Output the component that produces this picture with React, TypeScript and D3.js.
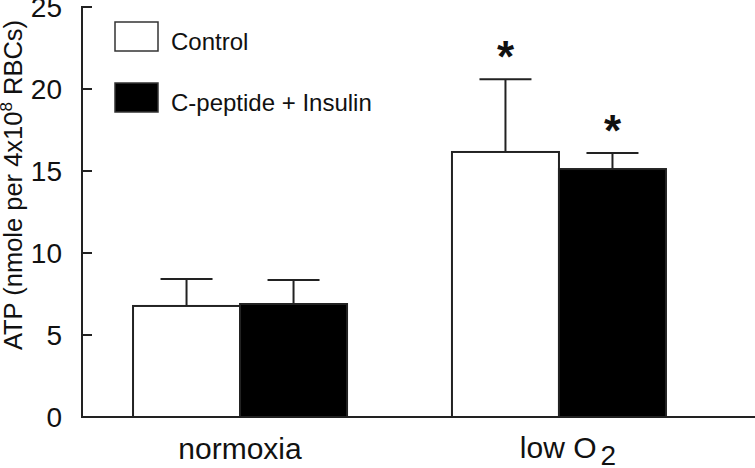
import { useEffect, useRef } from 'react';
import * as d3 from 'd3';

// data
const groups = ['normoxia', 'low O2'];
const series = ['Control', 'C-peptide + Insulin'];
const seriesFill = ['#ffffff', '#000000'];
const controlMean = [6.77, 16.16];
const controlErr = [1.64, 4.44];
const peptideMean = [6.89, 15.12];
const peptideErr = [1.46, 0.98];
const significant = [[false, false], [true, true]];
const yTicks = [0, 5, 10, 15, 20, 25];

export default function App() {
	const svgRef = useRef<SVGSVGElement | null>(null);

	useEffect(() => {
		const svg = d3.select(svgRef.current);
		svg.selectAll('*').remove();

		const width = 755;
		const height = 468;
		const margin = { top: 7, right: 0, bottom: 51, left: 82 };
		const h = height - margin.top - margin.bottom;
		const font = 'Liberation Sans, Arial, sans-serif';

		const g = svg.append('g').attr('transform', `translate(${margin.left},${margin.top})`);

		const x0 = d3.scaleBand().domain(groups).range([0, 635]).paddingInner(0.329).paddingOuter(0.16);
		const x1 = d3.scaleBand().domain(series).range([0, x0.bandwidth()]);
		const y = d3.scaleLinear().domain([0, 25]).range([h, 0]);

		const rows = groups.map((grp, i) => ({
			grp,
			bars: [
				{ s: series[0], mean: controlMean[i], err: controlErr[i], star: significant[i][0], fill: seriesFill[0] },
				{ s: series[1], mean: peptideMean[i], err: peptideErr[i], star: significant[i][1], fill: seriesFill[1] }
			]
		}));

		// bars
		rows.forEach((row) => {
			const gg = g.append('g').attr('transform', `translate(${x0(row.grp)},0)`);
			row.bars.forEach((b) => {
				const bx = x1(b.s) ?? 0;
				const cx = bx + x1.bandwidth() / 2;
				// error bar (upper only)
				gg.append('line')
					.attr('x1', cx).attr('x2', cx)
					.attr('y1', y(b.mean)).attr('y2', y(b.mean + b.err))
					.attr('stroke', '#222').attr('stroke-width', 2);
				gg.append('line')
					.attr('x1', cx - 26).attr('x2', cx + 26)
					.attr('y1', y(b.mean + b.err)).attr('y2', y(b.mean + b.err))
					.attr('stroke', '#222').attr('stroke-width', 2);
				gg.append('rect')
					.attr('x', bx)
					.attr('y', y(b.mean))
					.attr('width', x1.bandwidth())
					.attr('height', h - y(b.mean))
					.attr('fill', b.fill)
					.attr('stroke', '#222')
					.attr('stroke-width', 2);
				if (b.star) {
					gg.append('text')
						.attr('x', cx)
						.attr('y', y(b.mean + b.err) - 32 + 0.57 * 44)
						.attr('text-anchor', 'middle')
						.attr('font-family', font)
						.attr('font-weight', 'bold')
						.attr('font-size', 44)
						.attr('fill', '#111')
						.text('*');
				}
			});
		});

		// y axis
		g.append('line').attr('x1', 0).attr('x2', 0).attr('y1', y(25) - 1).attr('y2', h + 1)
			.attr('stroke', '#222').attr('stroke-width', 2);
		const ticks = g.append('g');
		yTicks.forEach((t) => {
			ticks.append('line').attr('x1', 0).attr('x2', 10).attr('y1', y(t)).attr('y2', y(t))
				.attr('stroke', '#222').attr('stroke-width', 2);
			ticks.append('text')
				.attr('x', -20)
				.attr('y', y(t))
				.attr('dy', '0.36em')
				.attr('text-anchor', 'end')
				.attr('font-family', font)
				.attr('font-size', 28)
				.attr('fill', '#111')
				.text(t);
		});

		// x axis
		g.append('line').attr('x1', 0).attr('x2', width - margin.left).attr('y1', h).attr('y2', h)
			.attr('stroke', '#222').attr('stroke-width', 2);

		// category labels
		const cat = g.append('g').attr('font-family', font).attr('font-size', 30).attr('fill', '#111');
		cat.append('text')
			.attr('x', (x0(groups[0]) ?? 0) + x0.bandwidth() / 2)
			.attr('y', h + 42)
			.attr('text-anchor', 'middle')
			.text('normoxia');
		const lo = cat.append('text')
			.attr('x', (x0(groups[1]) ?? 0) + x0.bandwidth() / 2 + 9)
			.attr('y', h + 41)
			.attr('text-anchor', 'middle');
		lo.append('tspan').text('low O');
		lo.append('tspan').attr('dx', 4).attr('dy', 7).attr('font-size', 28).text('2');

		// y label
		const yl = svg.append('text')
			.attr('transform', `translate(22,185) rotate(-90)`)
			.attr('text-anchor', 'middle')
			.attr('font-family', font)
			.attr('font-size', 25.5)
			.attr('fill', '#111');
		yl.append('tspan').text('ATP (nmole per 4x10');
		yl.append('tspan').attr('font-size', 17).attr('dy', -10).text('8');
		yl.append('tspan').attr('dy', 10).text(' RBCs)');

		// legend
		const legend = svg.append('g').attr('transform', 'translate(115,22)');
		series.forEach((s, i) => {
			const row = legend.append('g').attr('transform', `translate(0,${i * 61})`);
			row.append('rect')
				.attr('width', 43).attr('height', 29)
				.attr('fill', seriesFill[i])
				.attr('stroke', '#333').attr('stroke-width', 1.5);
			row.append('text')
				.attr('x', 56).attr('y', 28)
				.attr('font-family', font).attr('font-size', 24).attr('fill', '#111')
				.text(s);
		});
	}, []);

	return (
		<div style={{ position: 'absolute', left: 0, top: 0 }}>
			<svg ref={svgRef} width={755} height={468} style={{ display: 'block', background: '#fff' }} />
		</div>
	);
}
